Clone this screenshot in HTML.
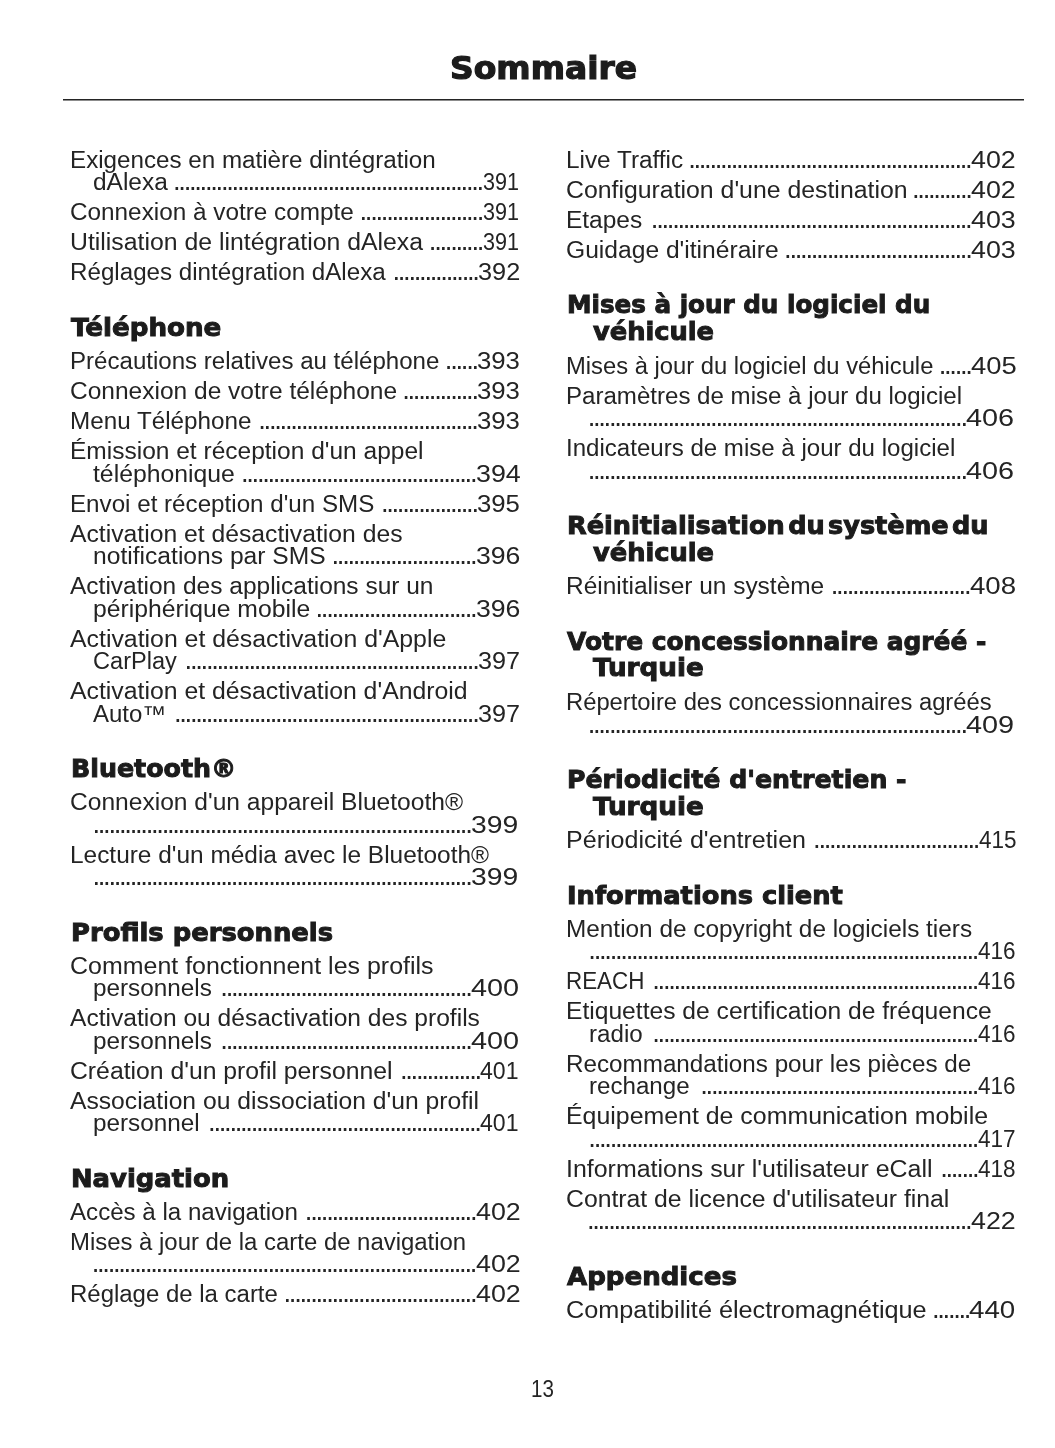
<!DOCTYPE html>
<html lang="fr"><head><meta charset="utf-8"><title>Sommaire</title>
<style>
html,body{margin:0;padding:0;background:#fff;}
body{width:1055px;height:1448px;position:relative;overflow:hidden;color:#1c1c1c;font-family:"Liberation Sans", sans-serif;}
.title{position:absolute;margin:0;white-space:nowrap;font:bold 31.8px/40px "DejaVu Sans", "Liberation Sans", sans-serif;transform-origin:0 0;-webkit-text-stroke:1.2px #1c1c1c;}
.rule{position:absolute;left:63px;width:961px;top:99px;height:2px;background:linear-gradient(to bottom,#242424 0,#242424 1px,#8c8c8c 1px,#8c8c8c 2px);}
.l{position:absolute;color:#242424;height:26.0px;line-height:26.0px;font-size:23.0px;white-space:nowrap;}
.l span{position:absolute;top:0;left:0;white-space:nowrap;transform-origin:0 0;}
.l .d{font-size:27.5px;}
.l .n{font-size:23.0px;}
.h{position:absolute;margin:0;height:30.0px;font:bold 25.3px/30.0px "DejaVu Sans", "Liberation Sans", sans-serif;white-space:nowrap;transform-origin:0 0;-webkit-text-stroke:1.0px #1c1c1c;}
.pn{position:absolute;color:#242424;font-size:23.0px;line-height:26.0px;white-space:nowrap;}
</style></head>
<body>
<h1 class="title" id="title" style="left:449.7px;top:48px;transform:scaleX(1.0353);">Sommaire</h1>
<div class="rule"></div>
<div id="col0">
<div class="l" id="k0-0-0" style="left:70.4px;top:147px;"><span class="t" style="transform:scaleX(1.0515)">Exigences en matière dintégration</span></div>
<div class="l" id="k0-0-1" style="left:92.9px;top:169px;"><span class="t" style="transform:scaleX(1.0636)">dAlexa</span><span class="d" style="left:80.10px;top:-1px;letter-spacing:-2.315px">..........................................................</span><span class="n" style="left:389.73px;top:0px;transform:scaleX(0.9368)">391</span></div>
<div class="l" id="k0-1-0" style="left:70.4px;top:199px;"><span class="t" style="transform:scaleX(1.0570)">Connexion à votre compte</span><span class="d" style="left:289.15px;top:-1px;letter-spacing:-2.315px">.......................</span><span class="n" style="left:412.23px;top:0px;transform:scaleX(0.9368)">391</span></div>
<div class="l" id="k0-2-0" style="left:70.4px;top:229px;"><span class="t" style="transform:scaleX(1.0786)">Utilisation de lintégration dAlexa</span><span class="d" style="left:358.44px;top:-1px;letter-spacing:-2.315px">..........</span><span class="n" style="left:412.23px;top:0px;transform:scaleX(0.9368)">391</span></div>
<div class="l" id="k0-3-0" style="left:70.4px;top:259px;"><span class="t" style="transform:scaleX(1.0506)">Réglages dintégration dAlexa</span><span class="d" style="left:322.06px;top:-1px;letter-spacing:-2.315px">................</span><span class="n" style="left:407.66px;top:0px;transform:scaleX(1.0994)">392</span></div>
<h2 class="h" id="k0-4-0" style="left:70.9px;top:313px;transform:scaleX(1.0330);">Téléphone</h2>
<div class="l" id="k0-5-0" style="left:70.4px;top:348px;"><span class="t" style="transform:scaleX(1.0467)">Précautions relatives au téléphone</span><span class="d" style="left:374.46px;top:-1px;letter-spacing:-2.315px">......</span><span class="n" style="left:406.74px;top:0px;transform:scaleX(1.1186)">393</span></div>
<div class="l" id="k0-6-0" style="left:70.4px;top:378px;"><span class="t" style="transform:scaleX(1.0658)">Connexion de votre téléphone</span><span class="d" style="left:331.82px;top:-1px;letter-spacing:-2.315px">..............</span><span class="n" style="left:406.74px;top:0px;transform:scaleX(1.1186)">393</span></div>
<div class="l" id="k0-7-0" style="left:70.4px;top:408px;"><span class="t" style="transform:scaleX(1.0538)">Menu Téléphone</span><span class="d" style="left:187.91px;top:-1px;letter-spacing:-2.315px">.........................................</span><span class="n" style="left:406.74px;top:0px;transform:scaleX(1.1186)">393</span></div>
<div class="l" id="k0-8-0" style="left:70.4px;top:438px;"><span class="t" style="transform:scaleX(1.0657)">Émission et réception d&#x27;un appel</span></div>
<div class="l" id="k0-8-1" style="left:92.9px;top:461px;"><span class="t" style="transform:scaleX(1.0758)">téléphonique</span><span class="d" style="left:148.02px;top:-1px;letter-spacing:-2.315px">............................................</span><span class="n" style="left:382.79px;top:0px;transform:scaleX(1.1655)">394</span></div>
<div class="l" id="k0-9-0" style="left:70.4px;top:491px;"><span class="t" style="transform:scaleX(1.0511)">Envoi et réception d&#x27;un SMS</span><span class="d" style="left:310.50px;top:-1px;letter-spacing:-2.315px">..................</span><span class="n" style="left:406.74px;top:0px;transform:scaleX(1.1186)">395</span></div>
<div class="l" id="k0-10-0" style="left:70.4px;top:521px;"><span class="t" style="transform:scaleX(1.0747)">Activation et désactivation des</span></div>
<div class="l" id="k0-10-1" style="left:92.9px;top:543px;"><span class="t" style="transform:scaleX(1.0708)">notifications par SMS</span><span class="d" style="left:238.63px;top:-1px;letter-spacing:-2.315px">...........................</span><span class="n" style="left:382.80px;top:0px;transform:scaleX(1.1572)">396</span></div>
<div class="l" id="k0-11-0" style="left:70.4px;top:573px;"><span class="t" style="transform:scaleX(1.0648)">Activation des applications sur un</span></div>
<div class="l" id="k0-11-1" style="left:92.9px;top:596px;"><span class="t" style="transform:scaleX(1.0753)">périphérique mobile</span><span class="d" style="left:222.64px;top:-1px;letter-spacing:-2.315px">..............................</span><span class="n" style="left:382.80px;top:0px;transform:scaleX(1.1572)">396</span></div>
<div class="l" id="k0-12-0" style="left:70.4px;top:626px;"><span class="t" style="transform:scaleX(1.0801)">Activation et désactivation d&#x27;Apple</span></div>
<div class="l" id="k0-12-1" style="left:92.9px;top:648px;"><span class="t" style="transform:scaleX(1.0248)">CarPlay</span><span class="d" style="left:91.69px;top:-1px;letter-spacing:-2.315px">.......................................................</span><span class="n" style="left:385.17px;top:0px;transform:scaleX(1.0938)">397</span></div>
<div class="l" id="k0-13-0" style="left:70.4px;top:678px;"><span class="t" style="transform:scaleX(1.0782)">Activation et désactivation d&#x27;Android</span></div>
<div class="l" id="k0-13-1" style="left:92.9px;top:701px;"><span class="t" style="transform:scaleX(1.0432)">Auto™</span><span class="d" style="left:81.03px;top:-1px;letter-spacing:-2.315px">.........................................................</span><span class="n" style="left:385.17px;top:0px;transform:scaleX(1.0938)">397</span></div>
<h2 class="h" id="k0-14-0" style="left:70.9px;top:754px;transform:scaleX(0.9995);">Bluetooth®</h2>
<div class="l" id="k0-15-0" style="left:70.4px;top:789px;"><span class="t" style="transform:scaleX(1.0683)">Connexion d&#x27;un appareil Bluetooth®</span></div>
<div class="l" id="k0-15-1" style="left:92.9px;top:812px;"><span class="d" style="left:-0.49px;top:-1px;letter-spacing:-2.315px">.......................................................................</span><span class="n" style="left:378.13px;top:0px;transform:scaleX(1.2289)">399</span></div>
<div class="l" id="k0-16-0" style="left:70.4px;top:842px;"><span class="t" style="transform:scaleX(1.0616)">Lecture d&#x27;un média avec le Bluetooth®</span></div>
<div class="l" id="k0-16-1" style="left:92.9px;top:864px;"><span class="d" style="left:-0.49px;top:-1px;letter-spacing:-2.315px">.......................................................................</span><span class="n" style="left:378.13px;top:0px;transform:scaleX(1.2289)">399</span></div>
<h2 class="h" id="k0-17-0" style="left:70.9px;top:918px;transform:scaleX(1.0205);">Profils personnels</h2>
<div class="l" id="k0-18-0" style="left:70.4px;top:953px;"><span class="t" style="transform:scaleX(1.0854)">Comment fonctionnent les profils</span></div>
<div class="l" id="k0-18-1" style="left:92.9px;top:975px;"><span class="t" style="transform:scaleX(1.0565)">personnels</span><span class="d" style="left:127.43px;top:-1px;letter-spacing:-2.315px">...............................................</span><span class="n" style="left:378.10px;top:0px;transform:scaleX(1.2537)">400</span></div>
<div class="l" id="k0-19-0" style="left:70.4px;top:1005px;"><span class="t" style="transform:scaleX(1.0687)">Activation ou désactivation des profils</span></div>
<div class="l" id="k0-19-1" style="left:92.9px;top:1028px;"><span class="t" style="transform:scaleX(1.0565)">personnels</span><span class="d" style="left:127.43px;top:-1px;letter-spacing:-2.315px">...............................................</span><span class="n" style="left:378.10px;top:0px;transform:scaleX(1.2537)">400</span></div>
<div class="l" id="k0-20-0" style="left:70.4px;top:1058px;"><span class="t" style="transform:scaleX(1.0760)">Création d&#x27;un profil personnel</span><span class="d" style="left:329.59px;top:-1px;letter-spacing:-2.315px">...............</span><span class="n" style="left:409.96px;top:0px;transform:scaleX(1.0029)">401</span></div>
<div class="l" id="k0-21-0" style="left:70.4px;top:1088px;"><span class="t" style="transform:scaleX(1.0719)">Association ou dissociation d&#x27;un profil</span></div>
<div class="l" id="k0-21-1" style="left:92.9px;top:1110px;"><span class="t" style="transform:scaleX(1.0560)">personnel</span><span class="d" style="left:115.21px;top:-1px;letter-spacing:-2.315px">...................................................</span><span class="n" style="left:387.46px;top:0px;transform:scaleX(1.0029)">401</span></div>
<h2 class="h" id="k0-22-0" style="left:70.9px;top:1164px;transform:scaleX(1.0213);">Navigation</h2>
<div class="l" id="k0-23-0" style="left:70.4px;top:1199px;"><span class="t" style="transform:scaleX(1.0484)">Accès à la navigation</span><span class="d" style="left:234.48px;top:-1px;letter-spacing:-2.315px">................................</span><span class="n" style="left:405.29px;top:0px;transform:scaleX(1.1655)">402</span></div>
<div class="l" id="k0-24-0" style="left:70.4px;top:1229px;"><span class="t" style="transform:scaleX(1.0398)">Mises à jour de la carte de navigation</span></div>
<div class="l" id="k0-24-1" style="left:92.9px;top:1251px;"><span class="d" style="left:-1.22px;top:-1px;letter-spacing:-2.315px">........................................................................</span><span class="n" style="left:382.79px;top:0px;transform:scaleX(1.1655)">402</span></div>
<div class="l" id="k0-25-0" style="left:70.4px;top:1281px;"><span class="t" style="transform:scaleX(1.0421)">Réglage de la carte</span><span class="d" style="left:213.16px;top:-1px;letter-spacing:-2.315px">....................................</span><span class="n" style="left:405.29px;top:0px;transform:scaleX(1.1655)">402</span></div>
</div>
<div id="col1">
<div class="l" id="k1-0-0" style="left:566.0px;top:147px;"><span class="t" style="transform:scaleX(1.0577)">Live Traffic</span><span class="d" style="left:122.15px;top:-1px;letter-spacing:-2.315px">.....................................................</span><span class="n" style="left:404.89px;top:0px;transform:scaleX(1.1655)">402</span></div>
<div class="l" id="k1-1-0" style="left:566.0px;top:177px;"><span class="t" style="transform:scaleX(1.0794)">Configuration d&#x27;une destination</span><span class="d" style="left:346.01px;top:-1px;letter-spacing:-2.315px">...........</span><span class="n" style="left:404.89px;top:0px;transform:scaleX(1.1655)">402</span></div>
<div class="l" id="k1-2-0" style="left:566.0px;top:207px;"><span class="t" style="transform:scaleX(1.0641)">Etapes</span><span class="d" style="left:84.84px;top:-1px;letter-spacing:-2.315px">............................................................</span><span class="n" style="left:404.89px;top:0px;transform:scaleX(1.1655)">403</span></div>
<div class="l" id="k1-3-0" style="left:566.0px;top:237px;"><span class="t" style="transform:scaleX(1.0703)">Guidage d&#x27;itinéraire</span><span class="d" style="left:218.09px;top:-1px;letter-spacing:-2.315px">...................................</span><span class="n" style="left:404.89px;top:0px;transform:scaleX(1.1655)">403</span></div>
<h2 class="h" id="k1-4-0" style="left:566.5px;top:290px;transform:scaleX(0.9730);">Mises à jour du logiciel du</h2>
<h2 class="h" id="k1-4-1" style="left:593.1px;top:317px;transform:scaleX(1.0155);">véhicule</h2>
<div class="l" id="k1-5-0" style="left:566.0px;top:353px;"><span class="t" style="transform:scaleX(1.0336)">Mises à jour du logiciel du véhicule</span><span class="d" style="left:372.66px;top:-1px;letter-spacing:-2.315px">......</span><span class="n" style="left:404.87px;top:0px;transform:scaleX(1.1903)">405</span></div>
<div class="l" id="k1-6-0" style="left:566.0px;top:383px;"><span class="t" style="transform:scaleX(1.0467)">Paramètres de mise à jour du logiciel</span></div>
<div class="l" id="k1-6-1" style="left:588.5px;top:405px;"><span class="d" style="left:-0.89px;top:-1px;letter-spacing:-2.315px">.......................................................................</span><span class="n" style="left:377.70px;top:0px;transform:scaleX(1.2537)">406</span></div>
<div class="l" id="k1-7-0" style="left:566.0px;top:435px;"><span class="t" style="transform:scaleX(1.0463)">Indicateurs de mise à jour du logiciel</span></div>
<div class="l" id="k1-7-1" style="left:588.5px;top:458px;"><span class="d" style="left:-0.89px;top:-1px;letter-spacing:-2.315px">.......................................................................</span><span class="n" style="left:377.70px;top:0px;transform:scaleX(1.2537)">406</span></div>
<h2 class="h" id="k1-8-0" style="left:566.5px;top:511px;transform:scaleX(1.0109);word-spacing:-5.5px;">Réinitialisation du système du</h2>
<h2 class="h" id="k1-8-1" style="left:593.1px;top:538px;transform:scaleX(1.0155);">véhicule</h2>
<div class="l" id="k1-9-0" style="left:566.0px;top:573px;"><span class="t" style="transform:scaleX(1.0631)">Réinitialiser un système</span><span class="d" style="left:264.76px;top:-1px;letter-spacing:-2.315px">..........................</span><span class="n" style="left:403.56px;top:0px;transform:scaleX(1.2013)">408</span></div>
<h2 class="h" id="k1-10-0" style="left:566.5px;top:627px;transform:scaleX(0.9836);">Votre concessionnaire agréé -</h2>
<h2 class="h" id="k1-10-1" style="left:593.1px;top:653px;transform:scaleX(1.0350);">Turquie</h2>
<div class="l" id="k1-11-0" style="left:566.0px;top:689px;"><span class="t" style="transform:scaleX(1.0339)">Répertoire des concessionnaires agréés</span></div>
<div class="l" id="k1-11-1" style="left:588.5px;top:712px;"><span class="d" style="left:-0.89px;top:-1px;letter-spacing:-2.315px">.......................................................................</span><span class="n" style="left:377.70px;top:0px;transform:scaleX(1.2537)">409</span></div>
<h2 class="h" id="k1-12-0" style="left:566.5px;top:765px;transform:scaleX(0.9967);">Périodicité d&#x27;entretien -</h2>
<h2 class="h" id="k1-12-1" style="left:593.1px;top:792px;transform:scaleX(1.0350);">Turquie</h2>
<div class="l" id="k1-13-0" style="left:566.0px;top:827px;"><span class="t" style="transform:scaleX(1.0888)">Périodicité d&#x27;entretien</span><span class="d" style="left:247.11px;top:-1px;letter-spacing:-2.315px">...............................</span><span class="n" style="left:412.79px;top:0px;transform:scaleX(0.9781)">415</span></div>
<h2 class="h" id="k1-14-0" style="left:566.5px;top:881px;transform:scaleX(1.0169);">Informations client</h2>
<div class="l" id="k1-15-0" style="left:566.0px;top:916px;"><span class="t" style="transform:scaleX(1.0588)">Mention de copyright de logiciels tiers</span></div>
<div class="l" id="k1-15-1" style="left:588.5px;top:938px;"><span class="d" style="left:-0.15px;top:-1px;letter-spacing:-2.315px">.........................................................................</span><span class="n" style="left:389.39px;top:0px;transform:scaleX(0.9781)">416</span></div>
<div class="l" id="k1-16-0" style="left:566.0px;top:968px;"><span class="t" style="transform:scaleX(0.9732)">REACH</span><span class="d" style="left:86.31px;top:-1px;letter-spacing:-2.315px">.............................................................</span><span class="n" style="left:411.89px;top:0px;transform:scaleX(0.9781)">416</span></div>
<div class="l" id="k1-17-0" style="left:566.0px;top:998px;"><span class="t" style="transform:scaleX(1.0706)">Etiquettes de certification de fréquence</span></div>
<div class="l" id="k1-17-1" style="left:588.5px;top:1021px;"><span class="t" style="transform:scaleX(1.0493)">radio</span><span class="d" style="left:63.81px;top:-1px;letter-spacing:-2.315px">.............................................................</span><span class="n" style="left:389.39px;top:0px;transform:scaleX(0.9781)">416</span></div>
<div class="l" id="k1-18-0" style="left:566.0px;top:1051px;"><span class="t" style="transform:scaleX(1.0529)">Recommandations pour les pièces de</span></div>
<div class="l" id="k1-18-1" style="left:588.5px;top:1073px;"><span class="t" style="transform:scaleX(1.0485)">rechange</span><span class="d" style="left:111.78px;top:-1px;letter-spacing:-2.315px">....................................................</span><span class="n" style="left:389.39px;top:0px;transform:scaleX(0.9781)">416</span></div>
<div class="l" id="k1-19-0" style="left:566.0px;top:1103px;"><span class="t" style="transform:scaleX(1.0823)">Équipement de communication mobile</span></div>
<div class="l" id="k1-19-1" style="left:588.5px;top:1126px;"><span class="d" style="left:-0.15px;top:-1px;letter-spacing:-2.315px">.........................................................................</span><span class="n" style="left:389.39px;top:0px;transform:scaleX(0.9781)">417</span></div>
<div class="l" id="k1-20-0" style="left:566.0px;top:1156px;"><span class="t" style="transform:scaleX(1.0843)">Informations sur l&#x27;utilisateur eCall</span><span class="d" style="left:374.13px;top:-1px;letter-spacing:-2.315px">.......</span><span class="n" style="left:411.89px;top:0px;transform:scaleX(0.9781)">418</span></div>
<div class="l" id="k1-21-0" style="left:566.0px;top:1186px;"><span class="t" style="transform:scaleX(1.0768)">Contrat de licence d&#x27;utilisateur final</span></div>
<div class="l" id="k1-21-1" style="left:588.5px;top:1208px;"><span class="d" style="left:-1.62px;top:-1px;letter-spacing:-2.315px">........................................................................</span><span class="n" style="left:382.39px;top:0px;transform:scaleX(1.1655)">422</span></div>
<h2 class="h" id="k1-22-0" style="left:566.5px;top:1262px;transform:scaleX(1.0303);">Appendices</h2>
<div class="l" id="k1-23-0" style="left:566.0px;top:1297px;"><span class="t" style="transform:scaleX(1.0976)">Compatibilité électromagnétique</span><span class="d" style="left:365.93px;top:-1px;letter-spacing:-2.315px">.......</span><span class="n" style="left:403.45px;top:0px;transform:scaleX(1.2041)">440</span></div>
</div>
<div class="pn" style="font-size:23.6px;left:530.76px;top:1376px;transform:scaleX(0.8723);transform-origin:0 0">13</div>
</body></html>
